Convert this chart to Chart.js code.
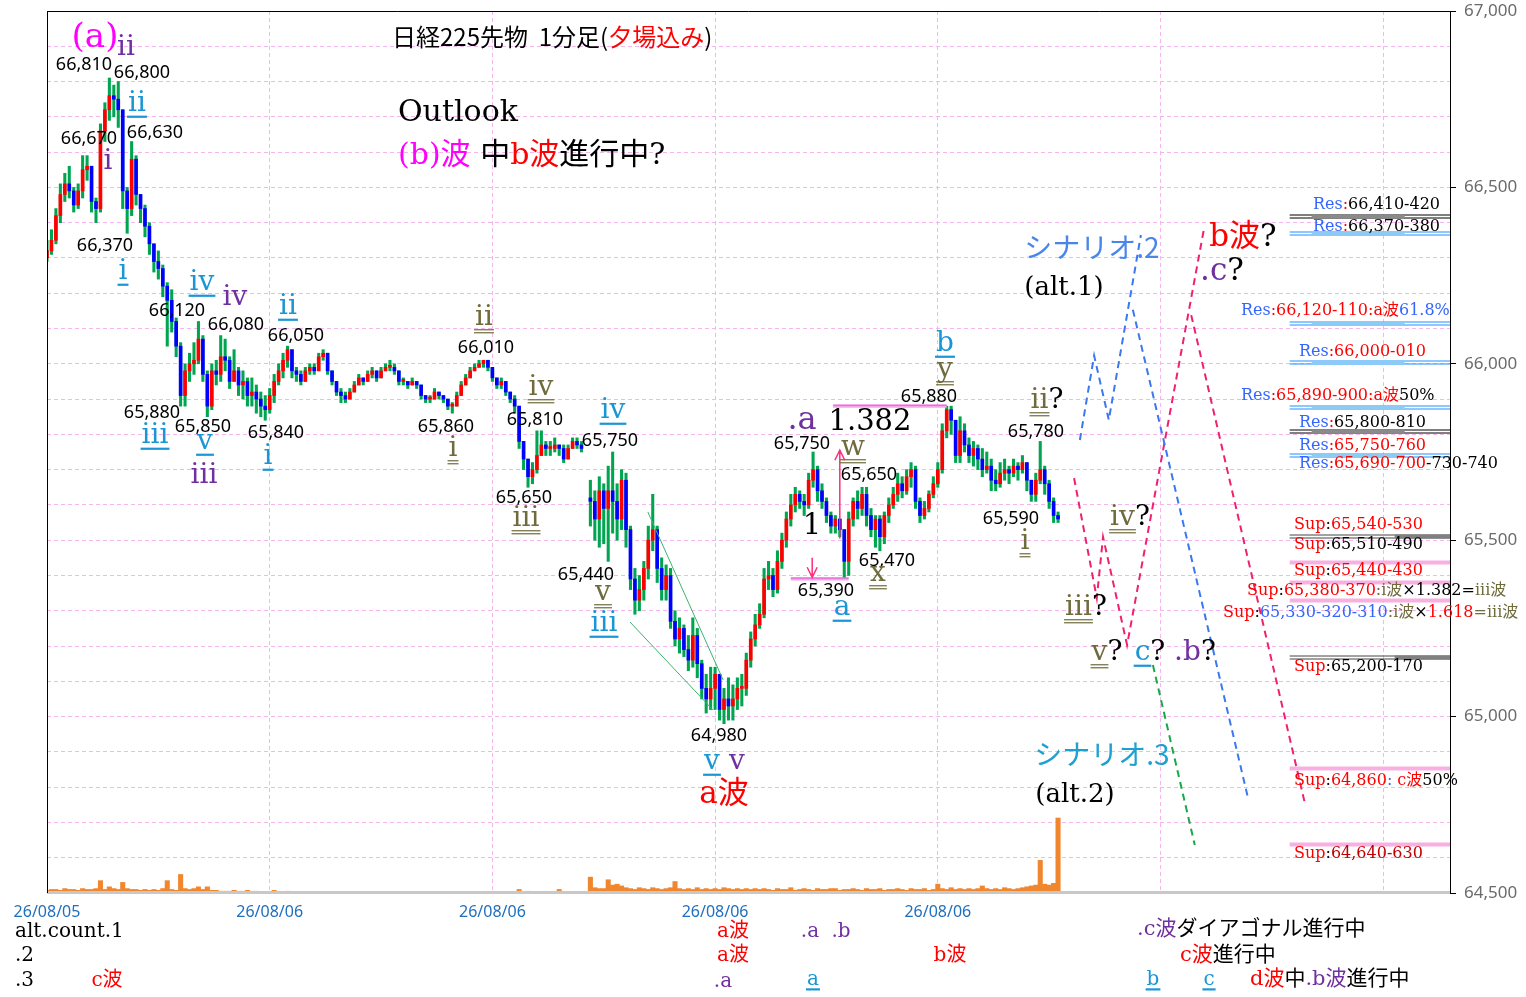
<!DOCTYPE html>
<html>
<head>
<meta charset="utf-8">
<script src="https://cdn.jsdelivr.net/npm/chart.js@4.4.1/dist/chart.umd.min.js"></script>
<style>
html, body { margin: 0; padding: 0; background: #fff; }
canvas { display: block; }
</style>
</head>
<body>
<canvas id="chart" width="1526" height="997"></canvas>
<script>
// 1-min bars (price in yen). Bar index = minute slot.
const closes = [
  66320, 66350, 66420, 66480, 66510, 66490, 66450, 66490, 66550, 66560,
  66460, 66440, 66660, 66720, 66760, 66750, 66720, 66490, 66440, 66580,
  66480, 66440, 66390, 66340, 66290, 66270, 66220, 66180, 66120, 66050,
  65910, 65980, 66000, 66010, 66070, 65970, 65880, 65980, 65970, 66020,
  66010, 65950, 65980, 65940, 65950, 65910, 65920, 65900, 65880, 65870,
  65910, 65950, 65980, 66010, 66040, 65980, 65970, 65950, 65980, 65990,
  65980, 66020, 66030, 65980, 65950, 65920, 65910, 65900, 65920, 65940,
  65960, 65950, 65970, 65980, 65960, 65980, 65990, 65990, 65980, 65950,
  65950, 65940, 65950, 65940, 65910, 65900, 65900, 65920, 65910, 65900,
  65880, 65880, 65910, 65940, 65960, 65980, 65990, 66000, 66010, 65990,
  65960, 65940, 65950, 65920, 65900, 65880, 65780, 65730, 65680, 65700,
  65740, 65770, 65760, 65760, 65770, 65760, 65730, 65760, 65780, 65770,
  65760, null, 65610, 65560, 65640, 65590, 65640, 65610, 65560, 65670,
  65530, 65390, 65330, 65360, 65420, 65500, 65530, 65420, 65360, 65400,
  65270, 65220, 65250, 65190, 65160, 65230, 65150, 65080, 65050, 65080,
  65120, 65020, 65050, 65030, 65050, 65080, 65080, 65160, 65220, 65260,
  65290, 65390, 65400, 65360, 65440, 65500, 65560, 65600, 65630, 65610,
  65600, 65670, 65700, 65640, 65610, 65570, 65540, 65560, 65530, 65440,
  65560, 65610, 65590, 65630, 65570, 65530, 65560, 65510, 65570, 65600,
  65630, 65660, 65640, 65680, 65700, 65610, 65570, 65590, 65630, 65660,
  65700, 65810, 65870, 65840, 65740, 65810, 65770, 65740, 65760, 65730,
  65700, 65710, 65670, 65660, 65690, 65700, 65690, 65710, 65700, 65720,
  65670, 65630, 65670, 65700, 65660, 65610, 65570, 65560
];
const highs = [
  66350, 66380, 66440, 66510, 66540, 66560, 66500, 66510, 66590, 66590,
  66560, 66470, 66680, 66740, 66810, 66790, 66800, 66720, 66500, 66630,
  66590, 66480, 66450, 66400, 66340, 66320, 66280, 66230, 66210, 66130,
  66060, 66000, 66030, 66060, 66120, 66080, 65980, 66000, 66010, 66080,
  66070, 66020, 66040, 65990, 65980, 65960, 65960, 65940, 65920, 65910,
  65930, 65970, 66000, 66030, 66050, 66030, 65990, 65980, 65990, 66000,
  66000, 66030, 66040, 66030, 65980, 65950, 65930, 65920, 65930, 65950,
  65970, 65960, 65980, 65990, 65980, 65990, 66000, 66010, 66000, 65980,
  65960, 65950, 65960, 65950, 65930, 65910, 65910, 65930, 65920, 65910,
  65900, 65890, 65920, 65950, 65970, 65990, 66000, 66010, 66010, 66000,
  65990, 65960, 65960, 65950, 65920, 65910, 65880, 65780, 65730, 65720,
  65810, 65810, 65780, 65780, 65790, 65770, 65770, 65770, 65790, 65790,
  65780, null, 65670, 65640, 65680, 65660, 65710, 65750, 65660, 65700,
  65690, 65540, 65420, 65400, 65440, 65540, 65630, 65540, 65450, 65430,
  65420, 65300, 65280, 65260, 65230, 65280, 65250, 65160, 65120, 65140,
  65140, 65120, 65080, 65110, 65090, 65110, 65120, 65180, 65240, 65290,
  65320, 65420, 65440, 65420, 65470, 65520, 65580, 65630, 65650, 65640,
  65630, 65690, 65750, 65710, 65660, 65620, 65580, 65570, 65560, 65530,
  65580, 65620, 65640, 65650, 65650, 65590, 65570, 65570, 65580, 65620,
  65650, 65690, 65680, 65700, 65720, 65710, 65620, 65610, 65640, 65680,
  65720, 65830, 65880, 65880, 65840, 65850, 65830, 65790, 65780, 65770,
  65760, 65750, 65730, 65700, 65720, 65730, 65710, 65730, 65720, 65740,
  65720, 65670, 65690, 65780, 65710, 65670, 65620, 65580
];
const lows = [
  66290, 66310, 66340, 66400, 66460, 66470, 66430, 66440, 66470, 66520,
  66430, 66400, 66430, 66630, 66690, 66700, 66670, 66440, 66370, 66420,
  66450, 66400, 66360, 66310, 66260, 66240, 66190, 66050, 66090, 66020,
  65880, 65880, 65950, 65970, 66000, 65950, 65850, 65870, 65940, 65950,
  65980, 65930, 65950, 65910, 65900, 65880, 65880, 65860, 65850, 65840,
  65860, 65890, 65940, 65960, 65990, 65960, 65950, 65940, 65950, 65970,
  65970, 65980, 66010, 65970, 65940, 65910, 65890, 65890, 65900, 65920,
  65940, 65940, 65950, 65960, 65950, 65960, 65980, 65980, 65970, 65940,
  65940, 65930, 65940, 65930, 65900, 65890, 65890, 65900, 65900, 65890,
  65870, 65860, 65880, 65910, 65940, 65960, 65980, 65990, 65990, 65980,
  65950, 65930, 65930, 65910, 65890, 65860, 65760, 65700, 65650, 65660,
  65690, 65740, 65740, 65740, 65750, 65740, 65720, 65740, 65760, 65760,
  65750, null, 65540, 65500, 65480, 65490, 65440, 65520, 65500, 65530,
  65480, 65360, 65290, 65300, 65330, 65390, 65470, 65380, 65330, 65330,
  65250, 65200, 65180, 65170, 65130, 65140, 65110, 65050, 65010, 65020,
  65020, 64990, 64980, 64990, 64990, 65020, 65030, 65060, 65140, 65200,
  65250, 65280, 65360, 65340, 65350, 65420, 65480, 65540, 65580, 65590,
  65570, 65590, 65650, 65610, 65590, 65550, 65520, 65520, 65510, 65390,
  65400, 65540, 65560, 65570, 65540, 65510, 65480, 65470, 65490, 65550,
  65590, 65610, 65620, 65630, 65650, 65590, 65550, 65560, 65580, 65620,
  65650, 65690, 65790, 65800, 65720, 65720, 65750, 65720, 65710, 65700,
  65680, 65690, 65640, 65640, 65650, 65670, 65660, 65680, 65670, 65690,
  65640, 65610, 65610, 65660, 65630, 65590, 65550, 65550
];
// price at which trading reopened after the gap, and the very first open
const firstOpen = 66300;
const reopens = [[122, 65620]];

const volumes = [
  3, 4, 4, 3, 5, 4, 4, 3, 5, 4,
  4, 5, 14, 4, 7, 5, 4, 12, 5, 4,
  4, 3, 4, 3, 4, 3, 5, 14, 4, 3,
  21, 5, 4, 5, 7, 4, 7, 3, 3, 2,
  2, 2, 3, 2, 2, 3, 2, 2, 1, 1,
  1, 3, 1, 1, 2, 1, 1, 1, 1, 1,
  1, 1, 1, 1, 1, 1, 1, 1, 1, 1,
  1, 1, 1, 1, 1, 1, 1, 1, 1, 1,
  1, 1, 1, 1, 1, 1, 1, 1, 1, 1,
  1, 1, 1, 1, 1, 1, 1, 1, 1, 1,
  1, 1, 1, 1, 1, 1, 4, 1, 2, 1,
  1, 1, 1, 1, 1, 4, 1, 1, 1, 1,
  1, 0, 18, 6, 5, 5, 15, 9, 10, 8,
  6, 5, 4, 6, 5, 4, 6, 5, 4, 5,
  6, 13, 5, 4, 5, 4, 6, 4, 5, 4,
  5, 4, 6, 5, 4, 5, 4, 5, 4, 5,
  4, 5, 4, 3, 5, 4, 4, 6, 3, 4,
  5, 4, 3, 5, 4, 4, 5, 5, 3, 4,
  4, 5, 4, 3, 5, 4, 4, 5, 3, 4,
  4, 5, 4, 3, 5, 4, 4, 5, 3, 4,
  10, 5, 4, 6, 4, 5, 4, 5, 4, 5,
  8, 5, 4, 5, 4, 6, 5, 4, 5, 6,
  7, 8, 9, 37, 10, 9, 11, 85
];

// x axis: gridline every 50 bars, date labels
const xTickValues = [0, 50, 100, 150, 200, 250, 300];
const xTickLabels = ['26/08/05', '26/08/06', '26/08/06', '26/08/06', '26/08/06', '', ''];
const yLabelValues = [64500, 65000, 65500, 66000, 66500, 67000];
const yTickLabels = ['64,500', '65,000', '65,500', '66,000', '66,500', '67,000'];

// projected paths [bar, price]
const scen2Up = [[231.9, 65784], [235.1, 66023], [238.4, 65841], [245.6, 66365]];
const scen2Down = [[243.8, 66153], [269.6, 64772]];
const scen1Zig = [[230.6, 65676], [235.7, 65336], [237.1, 65509], [242.5, 65203], [259.8, 66385]];
const scen1Down = [[256.9, 66138], [282.4, 64755]];
const scen3Down = [[248.3, 65146], [257.7, 64636]];
const wedgeTop = [[134.9, 65580], [151.8, 65104]];
const wedgeBottom = [[130.9, 65268], [149.5, 65019]];

// support / resistance levels on the right
const levelFrom = 279;
const levelPrices = [66420, 66370, 66115, 66005, 65877, 65810, 65742, 65512, 65438, 65382, 65330, 65169, 64854, 64639];
const levelKinds = ['k', 'b', 'b', 'b', 'b', 'k', 'b', 'g', 'p', 'p', 'p', 'g', 'p', 'p'];

// 1 : 1.382 measurement
const fibLines = [[167, 180, 65390], [176.5, 202, 65880]];
const arrowUp = [178, 65505, 65755];
const arrowDown = [171.8, 65450, 65395];

// ---- colours / fonts
const K = '#000000', R = '#ff0000', MG = '#ff00ff', PU = '#7030a0', BL = '#1a96d4',
      OL = '#6e6b3c', RB = '#3366ff', DR = '#c00000';
const NUM = '18px "Noto Sans"';
const SERIF = '"DejaVu Serif", "Noto Sans CJK JP"';
const WAV = '28px ' + SERIF;
const LV = '16px ' + SERIF;
const BOT = '20px ' + SERIF;
const JP = '"Noto Sans CJK JP"';

const labels = [
  // title block
  {x: 392, y: 37, a: 'left', f: '24px ' + JP, t: [['日経225先物  1分足(', K], ['夕場込み', R], [')', K]]},
  {x: 398, y: 113, a: 'left', f: '30px ' + SERIF, t: [['Outlook', K]]},
  {x: 398, y: 156, a: 'left', f: '30px ' + SERIF, t: [['(b)波 ', MG], ['中', K], ['b波', R], ['進行中?', K]]},
  // left wave counts
  {x: 95, y: 38, f: '34px ' + SERIF, t: [['(a)', MG]]},
  {x: 126, y: 48, f: WAV, t: [['ii', PU]]},
  {x: 84, y: 65, f: NUM, t: [['66,810', K]]},
  {x: 142, y: 73, f: NUM, t: [['66,800', K]]},
  {x: 137, y: 104, f: WAV, t: [['ii', BL, 1]]},
  {x: 89, y: 139, f: NUM, t: [['66,670', K]]},
  {x: 155, y: 133, f: NUM, t: [['66,630', K]]},
  {x: 108, y: 162, f: WAV, t: [['i', PU]]},
  {x: 105, y: 246, f: NUM, t: [['66,370', K]]},
  {x: 123, y: 272, f: WAV, t: [['i', BL, 1]]},
  {x: 202, y: 283, f: WAV, t: [['iv', BL, 1]]},
  {x: 235, y: 298, f: WAV, t: [['iv', PU]]},
  {x: 177, y: 311, f: NUM, t: [['66,120', K]]},
  {x: 236, y: 325, f: NUM, t: [['66,080', K]]},
  {x: 288, y: 307, f: WAV, t: [['ii', BL, 1]]},
  {x: 296, y: 336, f: NUM, t: [['66,050', K]]},
  {x: 152, y: 413, f: NUM, t: [['65,880', K]]},
  {x: 203, y: 427, f: NUM, t: [['65,850', K]]},
  {x: 276, y: 433, f: NUM, t: [['65,840', K]]},
  {x: 155, y: 436, f: WAV, t: [['iii', BL, 1]]},
  {x: 205, y: 442, f: WAV, t: [['v', BL, 1]]},
  {x: 204, y: 476, f: WAV, t: [['iii', PU]]},
  {x: 268, y: 457, f: WAV, t: [['i', BL, 1]]},
  // middle
  {x: 484, y: 318, f: WAV, t: [['ii', OL, 2]]},
  {x: 486, y: 348, f: NUM, t: [['66,010', K]]},
  {x: 541, y: 388, f: WAV, t: [['iv', OL, 2]]},
  {x: 535, y: 420, f: NUM, t: [['65,810', K]]},
  {x: 446, y: 427, f: NUM, t: [['65,860', K]]},
  {x: 453, y: 449, f: WAV, t: [['i', OL, 2]]},
  {x: 613, y: 411, f: WAV, t: [['iv', BL, 1]]},
  {x: 610, y: 441, f: NUM, t: [['65,750', K]]},
  {x: 524, y: 498, f: NUM, t: [['65,650', K]]},
  {x: 526, y: 519, f: WAV, t: [['iii', OL, 2]]},
  {x: 586, y: 575, f: NUM, t: [['65,440', K]]},
  {x: 603, y: 593, f: WAV, t: [['v', OL, 2]]},
  {x: 604, y: 624, f: WAV, t: [['iii', BL, 1]]},
  {x: 719, y: 736, f: NUM, t: [['64,980', K]]},
  {x: 712, y: 762, f: WAV, t: [['v', BL, 1]]},
  {x: 737, y: 762, f: WAV, t: [['v', PU]]},
  {x: 724, y: 795, f: '31px ' + SERIF, t: [['a波', R]]},
  // right cluster
  {x: 802, y: 421, f: '32px ' + SERIF, t: [['.a', PU]]},
  {x: 870, y: 422, f: '29px ' + SERIF, t: [['1.382', K]]},
  {x: 802, y: 444, f: NUM, t: [['65,750', K]]},
  {x: 853, y: 448, f: WAV, t: [['w', OL, 2]]},
  {x: 869, y: 475, f: NUM, t: [['65,650', K]]},
  {x: 812, y: 526, f: '29px ' + SERIF, t: [['1', K]]},
  {x: 887, y: 561, f: NUM, t: [['65,470', K]]},
  {x: 878, y: 574, f: WAV, t: [['x', OL, 2]]},
  {x: 826, y: 591, f: NUM, t: [['65,390', K]]},
  {x: 842, y: 608, f: WAV, t: [['a', BL, 1]]},
  {x: 945, y: 344, f: WAV, t: [['b', BL, 1]]},
  {x: 945, y: 370, f: WAV, t: [['y', OL, 2]]},
  {x: 929, y: 397, f: NUM, t: [['65,880', K]]},
  {x: 1047, y: 401, f: WAV, t: [['ii', OL, 2], ['?', K]]},
  {x: 1036, y: 432, f: NUM, t: [['65,780', K]]},
  {x: 1011, y: 519, f: NUM, t: [['65,590', K]]},
  {x: 1025, y: 542, f: WAV, t: [['i', OL, 2]]},
  // scenarios
  {x: 1092, y: 247, f: '28px ' + JP, t: [['シナリオ.2', '#4a86e8']]},
  {x: 1064, y: 288, f: '26px ' + SERIF, t: [['(alt.1)', K]]},
  {x: 1243, y: 238, f: '31px ' + SERIF, t: [['b波', R], ['?', K]]},
  {x: 1222, y: 272, f: '31px ' + SERIF, t: [['.c', PU], ['?', K]]},
  {x: 1130, y: 518, f: WAV, t: [['iv', OL, 2], ['?', K]]},
  {x: 1086, y: 608, f: WAV, t: [['iii', OL, 2], ['?', K]]},
  {x: 1107, y: 653, f: WAV, t: [['v', OL, 2], ['?', K]]},
  {x: 1150, y: 653, f: WAV, t: [['c', BL, 1], ['?', K]]},
  {x: 1195, y: 653, f: WAV, t: [['.b', PU], ['?', K]]},
  {x: 1102, y: 754, f: '28px ' + JP, t: [['シナリオ.3', '#1ea0d0']]},
  {x: 1075, y: 795, f: '26px ' + SERIF, t: [['(alt.2)', K]]},
  // bottom count legend
  {x: 15, y: 932, a: 'left', f: BOT, t: [['alt.count.1', K]]},
  {x: 15, y: 956, a: 'left', f: BOT, t: [['.2', K]]},
  {x: 15, y: 981, a: 'left', f: BOT, t: [['.3', K]]},
  {x: 107, y: 981, f: BOT, t: [['c波', R]]},
  {x: 733, y: 932, f: BOT, t: [['a波', R]]},
  {x: 733, y: 956, f: BOT, t: [['a波', R]]},
  {x: 723, y: 982, f: BOT, t: [['.a', PU]]},
  {x: 810, y: 932, f: BOT, t: [['.a', PU]]},
  {x: 841, y: 932, f: BOT, t: [['.b', PU]]},
  {x: 950, y: 956, f: BOT, t: [['b波', R]]},
  {x: 813, y: 980, f: BOT, t: [['a', BL, 1]]},
  {x: 1137, y: 930, a: 'left', f: '21px ' + SERIF, t: [['.c波', PU], ['ダイアゴナル進行中', K]]},
  {x: 1180, y: 956, a: 'left', f: '21px ' + SERIF, t: [['c波', R], ['進行中', K]]},
  {x: 1153, y: 980, f: BOT, t: [['b', BL, 1]]},
  {x: 1209, y: 980, f: BOT, t: [['c', BL, 1]]},
  {x: 1250, y: 980, a: 'left', f: '21px ' + SERIF, t: [['d波', R], ['中', K], ['.b波', PU], ['進行中', K]]},
  // Res / Sup texts
  {x: 1313, y: 205, a: 'left', f: LV, t: [['Res', RB], [':', R], ['66,410-420', K]]},
  {x: 1313, y: 227, a: 'left', f: LV, t: [['Res', RB], [':', R], ['66,370-380', K]]},
  {x: 1241, y: 311, a: 'left', f: LV, t: [['Res', RB], [':66,120-110:', R], ['a波', R], ['61.8%', RB]]},
  {x: 1299, y: 352, a: 'left', f: LV, t: [['Res', RB], [':66,000-010', R]]},
  {x: 1241, y: 396, a: 'left', f: LV, t: [['Res', RB], [':65,890-900:', R], ['a波', R], ['50%', K]]},
  {x: 1299, y: 423, a: 'left', f: LV, t: [['Res', RB], [':', R], ['65,800-810', K]]},
  {x: 1299, y: 446, a: 'left', f: LV, t: [['Res', RB], [':65,750-760', R]]},
  {x: 1299, y: 464, a: 'left', f: LV, t: [['Res', RB], [':65,690-700', R], ['-730-740', K]]},
  {x: 1294, y: 525, a: 'left', f: LV, t: [['Sup', R], [':', K], ['65,540-530', R]]},
  {x: 1294, y: 545, a: 'left', f: LV, t: [['Sup', R], [':65,510-490', K]]},
  {x: 1294, y: 571, a: 'left', f: LV, t: [['Sup', R], [':', K], ['65,440-430', R]]},
  {x: 1247, y: 591, a: 'left', f: LV, t: [['Sup', R], [':', K], ['65,380-370', R], [':i波', OL], ['×1.382=', K], ['iii波', OL]]},
  {x: 1223, y: 613, a: 'left', f: LV, t: [['Sup', R], [':', K], ['65,330-320-310', RB], [':i波', OL], ['×', K], ['1.618', R], ['=iii波', OL]]},
  {x: 1294, y: 667, a: 'left', f: LV, t: [['Sup', R], [':65,200-170', K]]},
  {x: 1294, y: 781, a: 'left', f: LV, t: [['Sup', R], [':', K], ['64,860', R], [':', RB], [' c波', R], ['50%', K]]},
  {x: 1294, y: 854, a: 'left', f: LV, t: [['Sup', R], [':', K], ['64,640-630', DR]]}
];

// ---- build candles (open = previous close)
const candles = [];
let prev = firstOpen;
closes.forEach((c, i) => {
  if (c === null) return;
  const re = reopens.find(r => r[0] === i);
  const o = re ? re[1] : prev;
  candles.push({x: i, o: o, c: c, h: Math.max(highs[i], o, c), l: Math.min(lows[i], o, c)});
  prev = c;
});

const pts = arr => arr.map(p => ({x: p[0], y: p[1]}));
const dashLine = (arr, color) => ({
  type: 'line', data: pts(arr), borderColor: color, borderWidth: 2,
  borderDash: [7, 5], pointRadius: 0, fill: false, order: 1
});
const thinLine = (arr) => ({
  type: 'line', data: pts(arr), borderColor: '#3cb371', borderWidth: 1,
  pointRadius: 0, fill: false, order: 1
});

function hline(ctx, x0, x1, y, color, w) {
  ctx.strokeStyle = color;
  ctx.lineWidth = w;
  ctx.beginPath();
  ctx.moveTo(x0, y);
  ctx.lineTo(x1, y);
  ctx.stroke();
}

function drawLabel(ctx, L) {
  ctx.font = L.f;
  ctx.textBaseline = 'middle';
  ctx.textAlign = 'left';
  const size = parseFloat(L.f);
  const widths = L.t.map(s => ctx.measureText(s[0]).width);
  const total = widths.reduce((a, b) => a + b, 0);
  let xx = L.a === 'left' ? L.x : L.x - total / 2;
  L.t.forEach((s, k) => {
    ctx.fillStyle = s[1];
    ctx.fillText(s[0], xx, L.y);
    if (s[2]) {
      const uy = L.y + size * 0.42;
      if (s[2] === 1) {
        hline(ctx, xx - 1, xx + widths[k] + 1, uy + 1, s[1], 2.2);
      } else {
        hline(ctx, xx - 1, xx + widths[k] + 1, uy, s[1], 1.2);
        hline(ctx, xx - 1, xx + widths[k] + 1, uy + 3, s[1], 1.2);
      }
    }
    xx += widths[k];
  });
}

// scales must not reserve room for half labels at the plot edges
const noEdgePad = s => {
  s.paddingTop = 0; s.paddingBottom = 0; s.paddingLeft = 0; s.paddingRight = 0;
};

const overlay = {
  id: 'overlay',
  beforeDatasetsDraw(chart) {
    const {ctx, chartArea: ca, scales: {x, y}} = chart;
    ctx.save();
    const x0 = x.getPixelForValue(levelFrom);
    levelPrices.forEach((p, k) => {
      const py = Math.round(y.getPixelForValue(p)) + 0.5;
      const kind = levelKinds[k];
      if (kind === 'b') {
        hline(ctx, x0, ca.right, py - 1.5, '#1e90ff', 1);
        hline(ctx, x0, ca.right, py + 1.5, '#1e90ff', 1);
        hline(ctx, x0 + 22, x0 + 115, py, '#8ccbf5', 4);
      } else if (kind === 'k') {
        hline(ctx, x0, ca.right, py - 1.5, '#000', 1);
        hline(ctx, x0, ca.right, py + 1.5, '#000', 1);
        hline(ctx, x0 + 22, x0 + 115, py, '#8a8a8a', 4);
      } else if (kind === 'g') {
        hline(ctx, x0, ca.right, py - 1.5, '#444', 1);
        hline(ctx, x0, ca.right, py + 1.5, '#444', 1);
        hline(ctx, x0 + 105, ca.right, py, '#808080', 4);
      } else {
        hline(ctx, x0, ca.right, py, '#f8b0e2', 4);
      }
    });
    ctx.restore();
  },
  afterDatasetsDraw(chart) {
    const {ctx, chartArea: ca, scales: {x, y}} = chart;
    ctx.save();
    // 1 : 1.382 range lines
    fibLines.forEach(f => {
      const py = y.getPixelForValue(f[2]);
      const a = x.getPixelForValue(f[0]), b = x.getPixelForValue(f[1]);
      hline(ctx, a, b, py, '#f6a4ec', 3);
      hline(ctx, a, b, py - 1, '#e050d0', 1);
    });
    // arrows
    [arrowUp, arrowDown].forEach(ar => {
      const px = x.getPixelForValue(ar[0]);
      const y0 = y.getPixelForValue(ar[1]), y1 = y.getPixelForValue(ar[2]);
      const dir = y1 < y0 ? 1 : -1;
      ctx.strokeStyle = '#ff2d7a';
      ctx.lineWidth = 1.5;
      ctx.beginPath();
      ctx.moveTo(px, y0);
      ctx.lineTo(px, y1);
      ctx.moveTo(px - 5, y1 + dir * 10);
      ctx.lineTo(px, y1);
      ctx.lineTo(px + 5, y1 + dir * 10);
      ctx.stroke();
    });
    // frame
    hline(ctx, ca.left, ca.right, ca.bottom - 0.5, '#c8c8c8', 3);
    hline(ctx, ca.left, ca.right, ca.top + 0.5, '#000', 1);
    ctx.strokeStyle = '#000';
    ctx.lineWidth = 1;
    ctx.beginPath();
    ctx.moveTo(ca.left + 0.5, ca.top);
    ctx.lineTo(ca.left + 0.5, ca.bottom);
    ctx.moveTo(ca.right + 0.5, ca.top);
    ctx.lineTo(ca.right + 0.5, ca.bottom);
    ctx.stroke();
    ctx.restore();
  },
  afterDraw(chart) {
    const ctx = chart.ctx;
    ctx.save();
    labels.forEach(L => drawLabel(ctx, L));
    ctx.restore();
  }
};

new Chart(document.getElementById('chart'), {
  type: 'bar',
  data: {
    datasets: [
      {
        label: 'volume', yAxisID: 'yv', grouped: false, order: 6,
        data: volumes.map((v, i) => ({x: i, y: v})),
        backgroundColor: '#f0862e', barThickness: 4.4
      },
      {
        label: 'shadow', grouped: false, order: 5,
        data: candles.map(d => ({x: d.x, y: [d.l, d.h]})),
        backgroundColor: '#00a550', barThickness: 2.4
      },
      {
        label: 'body', grouped: false, order: 4, minBarLength: 2,
        data: candles.map(d => ({x: d.x, y: [d.o, d.c]})),
        backgroundColor: candles.map(d => d.c >= d.o ? '#ff0000' : '#0000ff'),
        barThickness: 3
      },
      thinLine(wedgeTop),
      thinLine(wedgeBottom),
      dashLine(scen2Up, '#3a78f0'),
      dashLine(scen2Down, '#3a78f0'),
      dashLine(scen1Zig, '#f0206e'),
      dashLine(scen1Down, '#f0206e'),
      dashLine(scen3Down, '#18a848')
    ]
  },
  options: {
    responsive: false,
    animation: false,
    devicePixelRatio: 1,
    events: [],
    layout: {padding: {left: 47, top: 11, right: 0, bottom: 0}},
    plugins: {legend: {display: false}, tooltip: {enabled: false}},
    scales: {
      x: {
        type: 'linear', min: 0, max: 315, offset: false,
        afterBuildTicks: s => { s.ticks = xTickValues.map(v => ({value: v})); },
        afterFit: s => { s.height = 104; noEdgePad(s); },
        grid: {color: '#f5b5ef', lineWidth: 1, drawTicks: false, offset: false},
        border: {display: false, dash: [4, 3]},
        ticks: {
          padding: 10, color: '#1f6fbf', maxRotation: 0, autoSkip: false,
          font: {family: 'Noto Sans', size: 16},
          callback: (v, i) => xTickLabels[i]
        }
      },
      y: {
        position: 'right', min: 64500, max: 67000,
        afterBuildTicks: s => {
          const t = [];
          for (let v = 64500; v <= 67000; v += 100) t.push({value: v});
          s.ticks = t;
        },
        afterFit: s => { s.width = 76; noEdgePad(s); },
        grid: {
          color: '#f5b5ef', lineWidth: 1, tickLength: 6,
          tickColor: c => yLabelValues.includes(c.tick.value) ? '#000' : 'rgba(0,0,0,0)'
        },
        border: {display: false, dash: [4, 3]},
        ticks: {
          padding: 8, color: '#6b6b6b', autoSkip: false,
          font: {family: 'Noto Sans', size: 17},
          callback: v => {
            const k = yLabelValues.indexOf(v);
            return k < 0 ? '' : yTickLabels[k];
          }
        }
      },
      yv: {display: false, min: 0, max: 1000}
    }
  },
  plugins: [overlay]
});
</script>
</body>
</html>
